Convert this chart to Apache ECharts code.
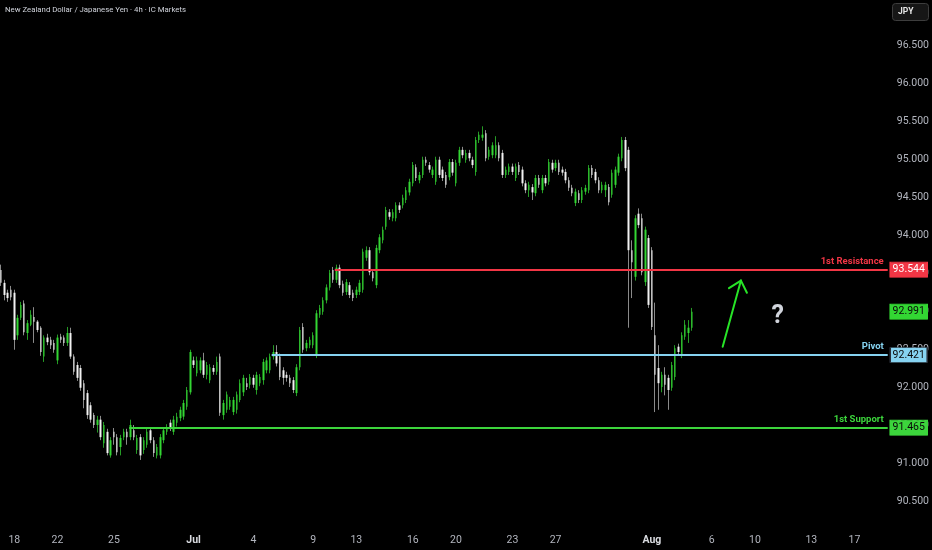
<!DOCTYPE html>
<html>
<head>
<meta charset="utf-8">
<script src="https://cdn.jsdelivr.net/npm/echarts@6.0.0/dist/echarts.min.js"></script>
<style>
html,body{margin:0;padding:0;background:#000;}
#c{width:932px;height:550px;}
</style>
</head>
<body>
<div id="c"></div>
<script>
// ---------------- DATA (4h candles) ----------------
const opens = [
93.54,93.37,93.24,93.28,93.24,92.68,92.91,93.10,92.71,92.82,92.92,92.86,92.78,92.40,92.65,92.62,92.58,92.35,92.66,92.65,
92.58,92.71,92.40,92.29,92.25,92.05,91.92,91.76,91.63,91.50,91.57,91.26,91.41,91.10,91.41,91.34,91.21,91.34,91.41,91.34,
91.43,91.17,91.34,91.17,91.24,91.43,91.30,91.10,91.10,91.30,91.41,91.53,91.41,91.53,91.59,91.61,91.74,91.93,92.35,92.18,
92.22,92.35,92.16,92.09,92.25,92.20,92.40,91.63,91.70,91.74,91.67,91.70,91.83,91.93,92.05,92.03,92.12,91.96,92.05,92.09,
92.22,92.22,92.40,92.46,92.40,92.22,92.16,92.12,92.09,91.92,92.26,92.79,92.51,92.55,92.55,92.42,92.95,92.99,93.14,93.31,
93.54,93.41,93.57,93.36,93.25,93.34,93.24,93.21,93.25,93.28,93.70,93.80,93.51,93.34,93.80,93.93,94.11,94.30,94.22,94.22,
94.39,94.39,94.46,94.56,94.68,94.89,94.72,94.79,94.99,94.92,94.79,94.70,94.99,94.86,94.79,94.76,94.96,94.68,94.95,95.12,
94.99,95.08,94.99,94.83,95.25,95.28,95.34,95.03,95.05,95.05,95.18,95.08,94.79,94.83,94.90,94.75,94.92,94.86,94.68,94.59,
94.63,94.55,94.75,94.59,94.75,94.70,94.95,94.88,94.95,94.86,94.83,94.72,94.62,94.42,94.55,94.46,94.57,94.59,94.88,94.83,
94.72,94.59,94.59,94.63,94.53,94.66,94.82,95.01,95.25,95.12,93.80,93.45,94.28,94.22,93.38,93.96,93.80,92.68,92.25,92.00,
92.16,92.12,91.99,92.13,92.53,92.42,92.66,92.71,92.78
];
const closes = [
93.37,93.21,93.17,93.18,92.62,92.91,93.08,92.72,92.84,92.95,92.86,92.75,92.46,92.65,92.59,92.55,92.49,92.65,92.62,92.58,
92.71,92.40,92.20,92.12,91.99,91.83,91.63,91.57,91.50,91.57,91.34,91.50,91.13,91.30,91.34,91.14,91.33,91.41,91.34,91.50,
91.34,91.33,91.10,91.30,91.41,91.30,91.13,91.21,91.34,91.43,91.47,91.46,91.57,91.61,91.70,91.79,91.96,92.46,92.29,92.35,
92.35,92.16,92.29,92.26,92.20,92.33,91.66,91.79,91.90,91.83,91.83,91.90,92.05,92.12,92.00,92.13,92.03,92.16,92.13,92.33,
92.35,92.40,92.46,92.31,92.13,92.12,92.12,92.05,91.96,92.26,92.75,92.49,92.58,92.62,92.68,92.97,93.04,93.14,93.31,93.50,
93.41,93.57,93.34,93.24,93.38,93.21,93.17,93.28,93.37,93.78,93.80,93.51,93.43,93.83,93.97,94.07,94.33,94.24,94.30,94.39,
94.33,94.49,94.59,94.70,94.92,94.75,94.79,94.99,94.95,94.86,94.86,94.99,94.79,94.75,94.66,94.96,94.82,94.95,95.12,95.05,
95.08,95.01,94.92,95.25,95.32,95.32,95.01,95.12,95.18,95.18,95.01,94.79,94.86,94.90,94.83,94.90,94.83,94.68,94.59,94.66,
94.56,94.75,94.66,94.75,94.68,94.96,94.86,94.95,94.83,94.82,94.72,94.62,94.55,94.57,94.46,94.59,94.62,94.88,94.79,94.72,
94.59,94.66,94.66,94.43,94.82,94.86,95.03,95.25,94.88,93.80,93.64,94.22,94.13,93.51,94.07,93.08,92.79,92.16,92.05,92.16,
92.03,91.96,92.29,92.51,92.46,92.68,92.82,92.78,92.991
];
const lows = [
93.33,93.14,93.12,93.14,92.49,92.62,92.88,92.68,92.62,92.80,92.58,92.72,92.41,92.33,92.55,92.50,92.45,92.30,92.58,92.54,
92.54,92.37,92.16,92.08,91.95,91.72,91.58,91.53,91.46,91.40,91.30,91.20,91.10,91.07,91.24,91.10,91.10,91.30,91.24,91.30,
91.30,91.12,91.04,91.12,91.20,91.26,91.08,91.06,91.06,91.26,91.37,91.42,91.37,91.48,91.55,91.57,91.70,91.90,92.25,92.14,
92.18,92.12,92.10,92.05,92.16,92.16,91.62,91.57,91.66,91.70,91.63,91.65,91.80,91.88,91.96,91.98,91.99,91.90,92.01,92.03,
92.18,92.18,92.36,92.27,92.09,92.03,92.07,92.00,91.92,91.88,92.22,92.45,92.47,92.51,92.51,92.38,92.91,92.95,93.10,93.27,
93.37,93.37,93.30,93.20,93.21,93.17,93.13,93.17,93.21,93.24,93.66,93.47,93.39,93.30,93.76,93.89,94.07,94.20,94.18,94.18,
94.29,94.35,94.42,94.52,94.64,94.71,94.68,94.75,94.91,94.82,94.75,94.66,94.75,94.71,94.62,94.72,94.78,94.64,94.91,95.01,
94.95,94.97,94.88,94.78,95.21,95.24,94.97,94.99,95.01,95.01,94.97,94.75,94.75,94.79,94.79,94.71,94.79,94.64,94.55,94.50,
94.46,94.51,94.62,94.55,94.64,94.66,94.82,94.84,94.79,94.78,94.68,94.58,94.51,94.38,94.42,94.42,94.53,94.55,94.75,94.68,
94.55,94.55,94.50,94.39,94.49,94.62,94.78,94.97,94.84,92.78,93.17,93.40,94.09,93.47,93.33,93.04,92.75,91.67,91.70,91.93,
91.89,91.70,91.95,92.09,92.42,92.38,92.62,92.58,92.74
];
const highs = [
93.61,93.41,93.28,93.33,93.28,92.95,93.12,93.14,92.88,93.01,93.05,92.88,92.80,92.68,92.70,92.66,92.62,92.69,92.70,92.68,
92.79,92.78,92.43,92.33,92.29,92.09,91.96,91.80,91.66,91.62,91.62,91.54,91.45,91.34,91.46,91.38,91.37,91.45,91.45,91.57,
91.50,91.37,91.38,91.34,91.45,91.47,91.34,91.25,91.38,91.47,91.51,91.57,91.62,91.66,91.74,91.83,92.00,92.49,92.40,92.40,
92.39,92.45,92.33,92.30,92.29,92.40,92.44,91.83,91.94,91.87,91.87,91.94,92.10,92.16,92.12,92.17,92.16,92.20,92.17,92.37,
92.39,92.44,92.55,92.55,92.44,92.26,92.20,92.16,92.13,92.30,92.79,92.84,92.62,92.66,92.72,93.01,93.08,93.18,93.35,93.54,
93.58,93.61,93.61,93.40,93.42,93.38,93.28,93.32,93.41,93.82,93.85,93.84,93.55,93.87,94.01,94.11,94.37,94.34,94.34,94.43,
94.43,94.53,94.63,94.74,94.96,94.93,94.83,95.03,95.03,94.96,94.90,95.03,95.03,94.90,94.83,95.00,95.00,94.99,95.16,95.16,
95.12,95.12,95.03,95.29,95.36,95.43,95.38,95.16,95.22,95.30,95.22,95.12,94.90,94.94,94.94,94.94,94.96,94.90,94.72,94.70,
94.67,94.79,94.79,94.79,94.79,95.00,94.99,94.99,94.99,94.90,94.87,94.76,94.66,94.61,94.59,94.63,94.66,94.92,94.92,94.87,
94.76,94.70,94.70,94.67,94.86,94.90,95.07,95.29,95.29,95.16,93.93,94.26,94.35,94.28,94.11,94.00,93.84,93.11,92.55,92.20,
92.26,92.16,92.33,92.55,92.57,92.72,92.88,92.88,93.04
];

// time-axis labels: bar index where each label sits, and its text
const dateTickIdx  = [4, 17, 34, 58, 76, 94, 107, 124, 137, 154, 167, 196, 214, 227, 244, 257];
const dateTickText = ['18','22','25','Jul','4','9','13','16','20','23','27','Aug','6','10','13','17'];

// price-axis tick labels
const priceTicks = [90.5, 91.0, 91.5, 92.0, 92.5, 93.0, 93.5, 94.0, 94.5, 95.0, 95.5, 96.0, 96.5];

// horizontal levels
const levelNames    = ['1st Resistance', 'Pivot', '1st Support'];
const levelValues   = [93.544, 92.421, 91.465];
const levelStartBar = [100.5, 81.5, 38.6];

// hand-drawn arrow (bar index, price) and question mark
const arrowBars   = [217.3, 222.8, 219.2, 224.6];   // start, tip, left arm, right arm
const arrowPrices = [92.53, 93.40, 93.30, 93.24];
const questionBar = 233.9;
const questionPrice = 92.92;

// ---------------- CHART ----------------
const X_MIN = -0.3, X_MAX = 267;
const Y_MIN = 90.184, Y_MAX = 97.092;
const FONT = 'Roboto, "Liberation Sans", sans-serif';
const GREEN = '#33d633', WHITE = '#f2f2f2';
const UP_WICK = '#259b25', DN_WICK = '#8a8a8a';
const levelColors = ['#f23645', '#86d3f1', '#3cd53c'];
const levelBoxText = ['#ffffff', '#0a0a0a', '#0a0a0a'];
const levelBoxBorder = ['#f23645', '#2a2e39', '#3cd53c'];
const ARROW = '#27e427';

const n = opens.length;
const wickData = opens.map((o, i) => [i, o, closes[i], lows[i], highs[i]]);
const bodyData = opens.map((o, i) => [i, o, closes[i], Math.min(o, closes[i]), Math.max(o, closes[i])]);
const lastClose = closes[n - 1];

const mlData = [];
levelValues.forEach((v, k) => {
  mlData.push([
    { coord: [levelStartBar[k], v],
      lineStyle: { color: levelColors[k], width: 2, type: 'solid' },
      label: { show: true, position: 'insideEndTop', formatter: levelNames[k],
               color: levelColors[k], fontSize: 9.5, fontWeight: 'bold', fontFamily: FONT, distance: [4, 3] } },
    { coord: [X_MAX, v] }
  ]);
});
const arrowLine = (a, b) => [
  { coord: [arrowBars[a], arrowPrices[a]],
    lineStyle: { color: ARROW, width: 2, type: 'solid', cap: 'round' }, label: { show: false } },
  { coord: [arrowBars[b], arrowPrices[b]] }
];
mlData.push(arrowLine(0, 1), arrowLine(1, 2), arrowLine(1, 3));

const mpData = [];
const boxItem = (v, fill, txt, border) => ({
  coord: [X_MAX, v], symbol: 'rect', symbolSize: [37, 15], symbolOffset: [21, 0],
  itemStyle: { color: fill, borderColor: border, borderWidth: 1 },
  label: { show: true, position: 'inside', formatter: v.toFixed(3), color: txt,
           fontSize: 10.5, fontFamily: FONT }
});
levelValues.forEach((v, k) => mpData.push(boxItem(v, levelColors[k], levelBoxText[k], levelBoxBorder[k])));
mpData.push(boxItem(lastClose, GREEN, '#0a0a0a', GREEN));
mpData.push({
  coord: [questionBar, questionPrice], symbol: 'circle', symbolSize: 1,
  itemStyle: { color: 'rgba(0,0,0,0)' },
  label: { show: true, position: 'inside', formatter: '?', color: '#d1d4dc',
           fontSize: 25, fontWeight: 'bold', fontFamily: FONT }
});

const chart = echarts.init(document.getElementById('c'));
chart.setOption({
  backgroundColor: '#000000',
  animation: false,
  title: {
    text: 'New Zealand Dollar / Japanese Yen · 4h · IC Markets',
    left: 5, top: 6, padding: 0,
    textStyle: { color: '#d1d4dc', fontSize: 7.8, fontWeight: 'normal', fontFamily: FONT }
  },
  graphic: [
    { type: 'rect', left: 892, top: 3, shape: { width: 36, height: 17, r: 3 },
      style: { fill: '#161616', stroke: '#3d3d3d', lineWidth: 1 } },
    { type: 'text', left: 898, top: 7,
      style: { text: 'JPY', fill: '#e6e6e6', font: 'bold 8.5px ' + FONT } }
  ],
  grid: { left: 0, right: 44, top: 0, bottom: 25 },
  xAxis: {
    type: 'value', min: X_MIN, max: X_MAX,
    axisLine: { show: false }, axisTick: { show: false }, splitLine: { show: false },
    axisLabel: {
      customValues: dateTickIdx,
      formatter: (v) => {
        const t = dateTickText[dateTickIdx.indexOf(v)];
        return /^[A-Za-z]/.test(t) ? '{m|' + t + '}' : t;
      },
      color: '#b2b5be', fontSize: 10.5, fontFamily: FONT, margin: 10,
      rich: { m: { color: '#d9dbe0', fontSize: 10.5, fontWeight: 'bold', fontFamily: FONT } }
    }
  },
  yAxis: {
    type: 'value', position: 'right', min: Y_MIN, max: Y_MAX,
    axisLine: { show: false }, axisTick: { show: false }, splitLine: { show: false },
    axisLabel: {
      customValues: priceTicks,
      formatter: (v) => v.toFixed(3),
      color: '#b2b5be', fontSize: 10.5, fontFamily: FONT, margin: 9
    }
  },
  series: [
    {
      type: 'candlestick', name: 'wick', data: wickData, barWidth: 1, silent: true, z: 2,
      itemStyle: { color: UP_WICK, color0: DN_WICK, borderColor: UP_WICK, borderColor0: DN_WICK, borderWidth: 1 }
    },
    {
      type: 'candlestick', name: 'body', data: bodyData, barWidth: 2, silent: true, z: 3, clip: false,
      itemStyle: { color: GREEN, color0: WHITE, borderColor: GREEN, borderColor0: WHITE, borderWidth: 0 },
      markLine: { symbol: ['none', 'none'], silent: true, animation: false, data: mlData },
      markPoint: { silent: true, animation: false, data: mpData }
    }
  ]
});
</script>
</body>
</html>
